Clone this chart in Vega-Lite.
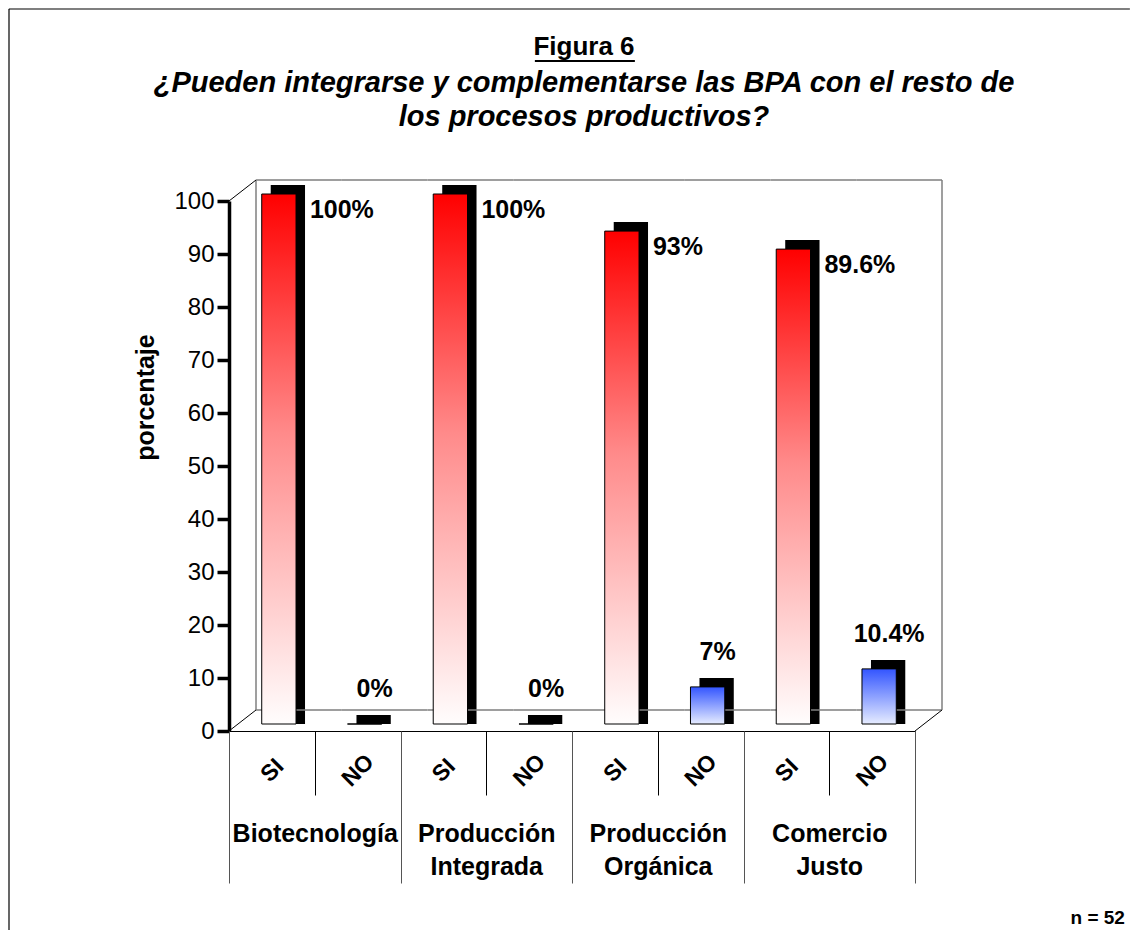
{
  "$schema": "https://vega.github.io/schema/vega-lite/v6.json",
  "width": 686,
  "height": 530,
  "padding": {"left": 8, "top": 8, "right": 0, "bottom": 0},
  "autosize": {"type": "pad"},
  "background": "white",
  "config": {
    "view": {"stroke": null},
    "font": "Liberation Sans",
    "axis": {"labelFont": "Liberation Sans", "titleFont": "Liberation Sans"}
  },
  "title": {
    "text": "Figura 6",
    "subtitle": ["¿Pueden integrarse y complementarse las BPA con el resto de", "los procesos productivos?"],
    "anchor": "middle",
    "frame": "group",
    "dx": 12,
    "offset": -124,
    "font": "Liberation Sans",
    "fontSize": 26,
    "fontWeight": "bold",
    "color": "black",
    "subtitleFont": "Liberation Sans",
    "subtitleFontSize": 29,
    "subtitleFontStyle": "italic",
    "subtitleFontWeight": "bold",
    "subtitleColor": "black",
    "subtitleLineHeight": 34,
    "subtitlePadding": 9
  },
  "data": {
    "values": [
      {"group": "Biotecnología", "resp": "SI", "cat": "Biotecnología|SI", "value": 100, "label": "100%"},
      {"group": "Biotecnología", "resp": "NO", "cat": "Biotecnología|NO", "value": 0, "label": "0%"},
      {"group": "Producción Integrada", "resp": "SI", "cat": "Producción Integrada|SI", "value": 100, "label": "100%"},
      {"group": "Producción Integrada", "resp": "NO", "cat": "Producción Integrada|NO", "value": 0, "label": "0%"},
      {"group": "Producción Orgánica", "resp": "SI", "cat": "Producción Orgánica|SI", "value": 93, "label": "93%"},
      {"group": "Producción Orgánica", "resp": "NO", "cat": "Producción Orgánica|NO", "value": 7, "label": "7%"},
      {"group": "Comercio Justo", "resp": "SI", "cat": "Comercio Justo|SI", "value": 89.6, "label": "89.6%"},
      {"group": "Comercio Justo", "resp": "NO", "cat": "Comercio Justo|NO", "value": 10.4, "label": "10.4%"}
    ]
  },
  "layer": [
    {
      "transform": [{"filter": "datum.resp === 'SI'"}],
      "mark": {"type": "rect", "fill": "white", "xOffset": 27, "x2Offset": 27, "yOffset": -21, "y2Offset": -21},
      "encoding": {
        "x": {
          "field": "group",
          "type": "nominal",
          "scale": {"domain": ["Biotecnología", "Producción Integrada", "Producción Orgánica", "Comercio Justo"], "paddingInner": 0, "paddingOuter": 0},
          "axis": {
            "title": "n = 52",
            "orient": "bottom",
            "domain": false,
            "grid": false,
            "tickBand": "extent",
            "tickSize": 152,
            "tickColor": "#555555",
            "tickWidth": 1,
            "labelExpr": "datum.value ? split(datum.value, ' ') : ''",
            "labelAngle": 0,
            "labelAlign": "center",
            "labelBaseline": "top",
            "labelPadding": -62,
            "labelFontSize": 25,
            "labelFontWeight": "bold",
            "labelLineHeight": 33,
            "labelColor": "black",
            "labelOverlap": false,
            "labelBound": false,
            "titleFontSize": 19,
            "titleFontWeight": "bold",
            "titleColor": "black",
            "titleX": 841,
            "titleY": 186,
            "titleAlign": "left",
            "titleBaseline": "middle"
          }
        },
        "y": {"datum": 100, "type": "quantitative"},
        "y2": {"datum": 0}
      }
    },
    {
      "encoding": {
        "y": {
          "field": "value",
          "type": "quantitative",
          "scale": {"domain": [0, 100], "nice": false},
          "axis": {
            "title": "porcentaje",
            "values": [0, 10, 20, 30, 40, 50, 60, 70, 80, 90, 100],
            "grid": false,
            "domainColor": "black",
            "domainWidth": 3.5,
            "tickColor": "black",
            "tickWidth": 3.5,
            "tickSize": 12,
            "labelPadding": 3,
            "labelFontSize": 24,
            "labelColor": "black",
            "titleFontSize": 25,
            "titleFontWeight": "bold",
            "titleColor": "black",
            "titleAngle": -90,
            "titleX": -84,
            "titleY": 196,
            "titleAlign": "center",
            "titleBaseline": "middle"
          }
        }
      },
      "layer": [
        {
          "mark": {"type": "bar", "width": {"band": 0.4}, "color": "black", "xOffset": 16, "yOffset": -16, "y2Offset": -7},
          "encoding": {
            "x": {
              "field": "cat",
              "type": "nominal",
              "scale": {
                "domain": ["Biotecnología|SI", "Biotecnología|NO", "Producción Integrada|SI", "Producción Integrada|NO", "Producción Orgánica|SI", "Producción Orgánica|NO", "Comercio Justo|SI", "Comercio Justo|NO"],
                "paddingInner": 0,
                "paddingOuter": 0
              },
              "axis": {
                "title": null,
                "orient": "bottom",
                "grid": false,
                "domain": true,
                "domainColor": "black",
                "domainWidth": 1,
                "ticks": true,
                "tickBand": "extent",
                "tickSize": 64,
                "tickColor": "black",
                "tickWidth": 1,
                "labelExpr": "datum.value ? split(datum.value, '|')[1] : ''",
                "labelAngle": -45,
                "labelAlign": "center",
                "labelBaseline": "middle",
                "labelPadding": -25,
                "labelFontSize": 23,
                "labelFontWeight": "bold",
                "labelColor": "black",
                "labelOverlap": false,
                "labelBound": false
              }
            },
            "y2": {"datum": 0}
          }
        },
        {
          "transform": [{"filter": "datum.cat === 'Biotecnología|SI'"}],
          "mark": {"type": "rule", "color": "black", "strokeWidth": 1.2, "xOffset": -220, "yOffset": -192, "y2Offset": 199},
          "encoding": {
            "x": {"field": "cat", "type": "nominal", "bandPosition": 0},
            "y": {"datum": 100, "type": "quantitative"},
            "y2": {"datum": 0}
          }
        },
        {
          "transform": [{"filter": "datum.cat === 'Biotecnología|SI'"}],
          "mark": {"type": "bar", "width": 1121, "fill": "transparent", "stroke": "black", "strokeWidth": 1.2, "xOffset": 297.5, "yOffset": -192, "y2Offset": -192},
          "encoding": {
            "x": {"field": "cat", "type": "nominal"},
            "y": {"datum": 100, "type": "quantitative"},
            "y2": {"datum": 100}
          }
        },
        {
          "transform": [{"filter": "datum.cat === 'Biotecnología|SI'"}],
          "mark": {"type": "bar", "width": 100, "color": "black", "xOffset": 313, "yOffset": -141, "y2Offset": -139},
          "encoding": {
            "x": {"field": "cat", "type": "nominal"},
            "y": {"datum": 100, "type": "quantitative"},
            "y2": {"datum": 100}
          }
        },
        {
          "mark": {"type": "rect", "fill": "transparent", "stroke": "#7f7f7f", "strokeWidth": 1.5, "xOffset": 27, "x2Offset": 27, "yOffset": -21, "y2Offset": -21},
          "encoding": {
            "x": {"field": "cat", "type": "nominal"},
            "y": {"datum": 100, "type": "quantitative"},
            "y2": {"datum": 100}
          }
        },
        {
          "mark": {"type": "rect", "fill": "transparent", "stroke": "#7f7f7f", "strokeWidth": 1.5, "xOffset": 27, "x2Offset": 27, "yOffset": -21, "y2Offset": -21},
          "encoding": {
            "x": {"field": "cat", "type": "nominal"},
            "y": {"datum": 0, "type": "quantitative"},
            "y2": {"datum": 0}
          }
        },
        {
          "transform": [{"filter": "datum.cat === 'Biotecnología|SI'"}],
          "mark": {"type": "rule", "color": "#7f7f7f", "strokeWidth": 1.5, "xOffset": 27, "yOffset": -21, "y2Offset": -21},
          "encoding": {
            "x": {"field": "cat", "type": "nominal", "bandPosition": 0},
            "y": {"datum": 100, "type": "quantitative"},
            "y2": {"datum": 0}
          }
        },
        {
          "transform": [{"filter": "datum.cat === 'Comercio Justo|NO'"}],
          "mark": {"type": "rule", "color": "#7f7f7f", "strokeWidth": 1.5, "xOffset": 27, "yOffset": -21, "y2Offset": -21},
          "encoding": {
            "x": {"field": "cat", "type": "nominal", "bandPosition": 1},
            "y": {"datum": 100, "type": "quantitative"},
            "y2": {"datum": 0}
          }
        },
        {
          "transform": [{"filter": "datum.cat === 'Biotecnología|SI'"}],
          "mark": {"type": "rule", "color": "black", "strokeWidth": 1, "x2Offset": 27, "y2Offset": -21},
          "encoding": {
            "x": {"field": "cat", "type": "nominal", "bandPosition": 0},
            "x2": {"field": "cat", "bandPosition": 0},
            "y": {"datum": 100, "type": "quantitative"},
            "y2": {"datum": 100}
          }
        },
        {
          "transform": [{"filter": "datum.cat === 'Biotecnología|SI'"}],
          "mark": {"type": "rule", "color": "black", "strokeWidth": 1, "x2Offset": 27, "y2Offset": -21},
          "encoding": {
            "x": {"field": "cat", "type": "nominal", "bandPosition": 0},
            "x2": {"field": "cat", "bandPosition": 0},
            "y": {"datum": 0, "type": "quantitative"},
            "y2": {"datum": 0}
          }
        },
        {
          "transform": [{"filter": "datum.cat === 'Comercio Justo|NO'"}],
          "mark": {"type": "rule", "color": "black", "strokeWidth": 1, "x2Offset": 27, "y2Offset": -21},
          "encoding": {
            "x": {"field": "cat", "type": "nominal", "bandPosition": 1},
            "x2": {"field": "cat", "bandPosition": 1},
            "y": {"datum": 0, "type": "quantitative"},
            "y2": {"datum": 0}
          }
        },
        {
          "transform": [{"filter": "datum.resp === 'SI'"}],
          "mark": {
            "type": "bar",
            "width": {"band": 0.4},
            "xOffset": 7,
            "yOffset": -7,
            "y2Offset": -7,
            "stroke": "black",
            "strokeWidth": 1,
            "color": {
              "gradient": "linear",
              "x1": 0, "y1": 0, "x2": 0, "y2": 1,
              "stops": [
                {"offset": 0, "color": "#ff0000"},
                {"offset": 0.45, "color": "#ff8a8a"},
                {"offset": 1, "color": "#fffdfd"}
              ]
            }
          },
          "encoding": {"x": {"field": "cat", "type": "nominal"}}
        },
        {
          "transform": [{"filter": "datum.resp === 'NO'"}],
          "mark": {
            "type": "bar",
            "width": {"band": 0.4},
            "xOffset": 7,
            "yOffset": -7,
            "y2Offset": -7,
            "stroke": "black",
            "strokeWidth": 1,
            "color": {
              "gradient": "linear",
              "x1": 0, "y1": 0, "x2": 0, "y2": 1,
              "stops": [
                {"offset": 0, "color": "#3355ff"},
                {"offset": 1, "color": "#e6ecff"}
              ]
            }
          },
          "encoding": {"x": {"field": "cat", "type": "nominal"}}
        },
        {
          "transform": [{"filter": "datum.resp === 'SI'"}],
          "mark": {"type": "text", "align": "left", "baseline": "middle", "dx": 38, "dy": 9, "fontSize": 25, "fontWeight": "bold", "color": "black", "font": "Liberation Sans"},
          "encoding": {"x": {"field": "cat", "type": "nominal"}, "text": {"field": "label"}}
        },
        {
          "transform": [{"filter": "datum.resp === 'NO'"}],
          "mark": {"type": "text", "align": "center", "baseline": "middle", "dx": 17, "dy": -42, "fontSize": 25, "fontWeight": "bold", "color": "black", "font": "Liberation Sans"},
          "encoding": {"x": {"field": "cat", "type": "nominal"}, "text": {"field": "label"}}
        }
      ]
    }
  ],
  "resolve": {"scale": {"x": "independent"}, "axis": {"x": "independent"}}
}
